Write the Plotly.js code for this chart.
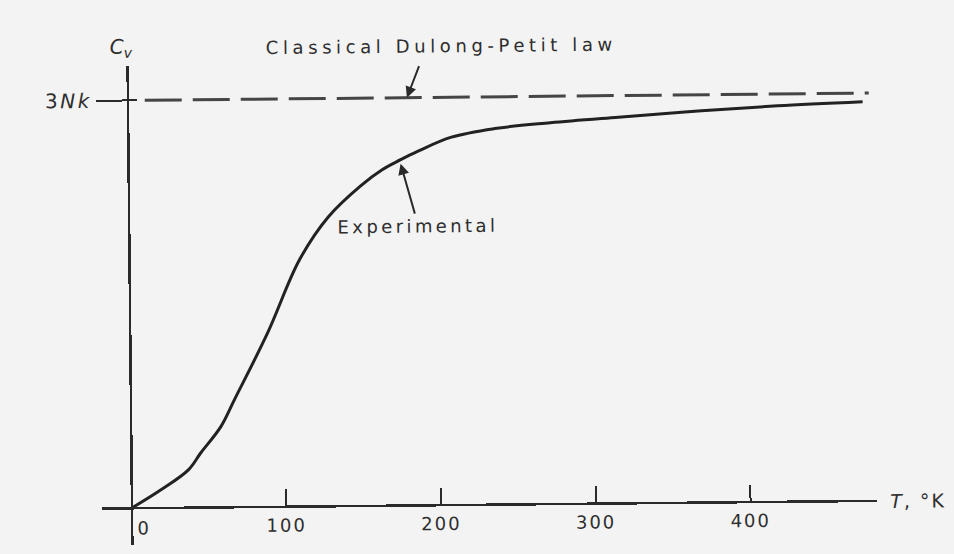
<!DOCTYPE html>
<html>
<head>
<meta charset="utf-8">
<script src="https://cdn.plot.ly/plotly-3.0.1.min.js"></script>
<style>
  html, body { margin: 0; padding: 0; background: #f3f3f3; overflow: hidden; }
  #chart { width: 954px; height: 554px; transform: rotate(-0.57deg); transform-origin: 477px 277px; }
</style>
</head>
<body>
<div id="chart"></div>
<script>
// Experimental heat capacity curve (Cv as fraction of 3Nk) vs temperature T (K)
const tempK = [0, 19, 37, 45, 58, 67, 89, 110, 129, 150, 164, 176, 187, 209, 237, 273, 317, 360, 381, 420, 475];
const cvFrac = [0, 0.044, 0.093, 0.134, 0.197, 0.263, 0.427, 0.605, 0.710, 0.785, 0.824, 0.848, 0.868, 0.902, 0.922, 0.935, 0.947, 0.958, 0.963, 0.971, 0.979];

// Classical Dulong-Petit limit (3Nk)
const dulongT = [11, 479];
const dulongCv = [1, 1];

// Axis ticks
const xTickVals = [100, 200, 300, 400];
const xTickText = ['100', '200', '300', '400'];
const yTickVals = [1];
const yTickText = ['3<i>Nk</i>'];

// Arrow targets (data coordinates)
const dulongArrowT = 180.5, dulongArrowCv = 1;
const expArrowT = 176, expArrowCv = 0.838;

const ink = '#2a2a2a';
const txt = '#2e2e2e';

const traces = [
  {
    x: tempK, y: cvFrac, type: 'scatter', mode: 'lines',
    line: {color: '#222222', width: 3, shape: 'spline', smoothing: 1},
    hoverinfo: 'skip', showlegend: false
  },
  {
    x: dulongT, y: dulongCv, type: 'scatter', mode: 'lines',
    line: {color: '#454545', width: 3, dash: '37px,11px'},
    hoverinfo: 'skip', showlegend: false
  },
  {
    x: [null], y: [null], yaxis: 'y2', type: 'scatter', mode: 'lines',
    hoverinfo: 'skip', showlegend: false
  }
];

const yRange = [-0.091, 1.0834];

const layout = {
  width: 954, height: 554,
  margin: {l: 0, r: 0, t: 0, b: 0},
  paper_bgcolor: '#f3f3f3',
  plot_bgcolor: 'rgba(0,0,0,0)',
  showlegend: false,
  hovermode: false,
  font: {family: 'DejaVu Sans', size: 18, color: txt},
  xaxis: {
    domain: [0.10482, 0.91719],
    range: [-19.07, 481.9],
    anchor: 'free', position: 0.0892,
    showline: true, linecolor: ink, linewidth: 2.5,
    showgrid: false, zeroline: false,
    ticks: 'inside', ticklen: 16, tickwidth: 2, tickcolor: ink,
    tickvals: xTickVals,
    ticktext: xTickText.map(t => '<span style="letter-spacing:2px">' + t + '</span>'),
    tickfont: {family: 'DejaVu Sans', size: 18, color: txt},
    ticklabelstandoff: 2,
    fixedrange: true
  },
  yaxis: {
    domain: [0.0222, 0.8863],
    range: yRange,
    anchor: 'free', position: 0.1357,
    showline: true, linecolor: ink, linewidth: 2.5,
    showgrid: false, zeroline: false,
    ticks: 'outside', ticklen: 31, tickwidth: 2, tickcolor: ink,
    tickvals: yTickVals,
    ticktext: yTickText.map(t => '<span style="letter-spacing:2.5px">' + t + '</span>'),
    tickfont: {family: 'DejaVu Sans', size: 20, color: txt},
    fixedrange: true
  },
  yaxis2: {
    domain: [0.0222, 0.8863],
    range: yRange,
    overlaying: 'y',
    anchor: 'free', position: 0.1357,
    showline: false, showgrid: false, zeroline: false,
    ticks: 'inside', ticklen: 8, tickwidth: 2, tickcolor: ink,
    tickvals: yTickVals, showticklabels: false,
    fixedrange: true
  },
  annotations: [
    {
      xref: 'x', yref: 'paper', x: 0, y: 0.92, xanchor: 'center', yanchor: 'middle',
      xshift: -6,
      text: '<i>C<sub>v</sub></i>', showarrow: false,
      font: {family: 'DejaVu Sans', size: 20, color: txt}
    },
    {
      xref: 'x', yref: 'y', x: 0, y: 0, xanchor: 'left', yanchor: 'top',
      xshift: 4, yshift: -7,
      text: '0', showarrow: false,
      font: {family: 'DejaVu Sans', size: 18, color: txt}
    },
    {
      xref: 'paper', yref: 'y', x: 0.929, y: 0, xanchor: 'left', yanchor: 'middle',
      text: '<span style="letter-spacing:2px"><i>T</i>, °K</span>', showarrow: false,
      font: {family: 'DejaVu Sans', size: 19, color: txt}
    },
    {
      xref: 'paper', yref: 'paper', x: 0.279, y: 0.917, xanchor: 'left', yanchor: 'middle',
      text: '<span style="letter-spacing:4.6px">Classical Dulong-Petit law</span>', showarrow: false,
      font: {family: 'DejaVu Sans', size: 18, color: txt}
    },
    {
      xref: 'x', yref: 'y', x: expArrowT, y: expArrowCv,
      xanchor: 'center', yanchor: 'middle',
      text: '<span style="letter-spacing:3.4px">Experimental</span>',
      showarrow: true, ax: 17, ay: 62,
      arrowhead: 2, arrowsize: 1.1, arrowwidth: 2, arrowcolor: ink, standoff: 0,
      font: {family: 'DejaVu Sans', size: 18, color: txt}
    },
    {
      xref: 'x', yref: 'y', x: dulongArrowT, y: dulongArrowCv,
      text: '', showarrow: true, ax: 13, ay: -33,
      arrowhead: 2, arrowsize: 1.1, arrowwidth: 2, arrowcolor: ink, standoff: 0
    }
  ]
};

Plotly.newPlot('chart', traces, layout, {displayModeBar: false, staticPlot: true});
</script>
</body>
</html>
